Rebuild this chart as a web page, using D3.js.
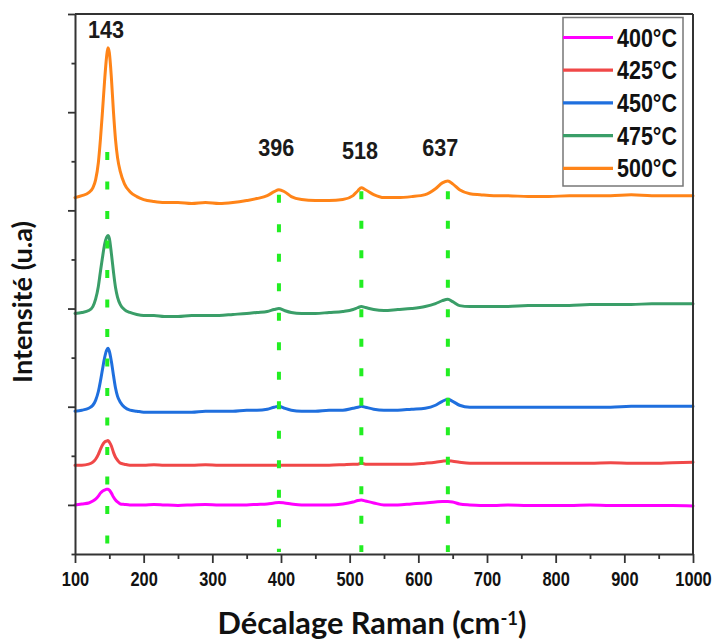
<!DOCTYPE html>
<html><head><meta charset="utf-8">
<script src="https://cdn.jsdelivr.net/npm/d3@7"></script>
<style>body{margin:0;background:#fff}</style>
</head><body>
<svg id="c" width="716" height="641"></svg>
<script>
// ---------- DATA ----------
const wavenumbers = [100,110,120,126,130,134,137,140,143,146,148,150,153,156,159,162,166,172,180,190,200,215,230,250,270,290,310,330,350,365,380,390,397,405,415,430,450,470,490,505,512,517,523,535,550,570,590,610,625,635,643,650,660,675,690,710,730,760,790,820,850,880,910,940,970,1000];

const s400 = [100,102,104,108,112,118,124,128,130,132,132,130,124,116,110,106,102,101,100,100,100,101,100,99,100,101,100,100,100,101,102,104,105,104,102,100,100,100,102,106,109,110,108,104,100,100,102,104,106,107,107,106,102,100,99,99,100,99,99,99,100,99,99,99,99,98];
const s425 = [181,181,183,187,193,203,213,222,228,230,231,228,220,207,197,191,185,183,181,181,181,182,181,181,181,182,181,181,181,181,181,181,181,181,181,181,181,181,182,183,183,185,183,183,183,183,183,185,187,189,190,189,187,185,185,185,185,185,185,185,185,186,185,185,186,187];
const s450 = [291,293,297,303,313,331,352,376,399,415,419,413,392,364,338,321,309,299,293,291,289,289,289,289,289,291,291,291,293,293,295,299,301,297,293,291,291,293,293,297,299,301,299,295,293,293,295,297,303,311,315,311,303,299,299,299,299,299,299,299,299,299,301,301,301,301];
const s475 = [490,492,496,504,519,545,575,604,630,645,649,643,612,575,543,523,508,498,492,488,486,486,484,484,486,486,486,488,490,492,494,498,500,496,492,490,490,492,494,498,502,504,502,498,496,498,500,504,510,516,519,514,506,504,504,504,504,506,506,506,508,508,508,510,510,510];
const s500 = [726,730,736,746,762,797,844,901,962,1013,1031,1021,970,901,844,807,779,754,738,728,722,718,716,716,714,716,714,716,720,724,730,738,742,738,728,722,720,720,722,730,740,746,742,732,726,726,728,732,744,756,760,754,742,734,732,730,730,728,728,730,730,730,732,730,730,730];

const seriesNames = ["400°C","425°C","450°C","475°C","500°C"];
const seriesColors = ["#ff00ff","#f04848","#1f6fde","#3a9e68","#ff8418"];

const peakLabels = ["143","396","518","637"];
const peakLabelWn = [145,393,515,632];
const peakLabelVal = [1052,810,805,810];
const peakLineWn = [147,397,517,643];
const peakLineTop = [819,732,739,739];
const peakLineBottom = 4;

const xTickMajor = [100,200,300,400,500,600,700,800,900,1000];
const xTickMinor = [150,250,350,450,550,650,750,850,950];
const yTickMajor = [100,300,500,700,900,1100];
const yTickMinor = [0,200,400,600,800,1000];

const xTitle = "Décalage Raman (cm";
const xTitleSup = "-1";
const yTitle = "Intensité (u.a)";

// ---------- CHART ----------
const svg = d3.select("#c");
svg.append("rect").attr("width",716).attr("height",641).attr("fill","#fff");

const x = d3.scaleLinear().domain([100,1000]).range([75,693]);
const y = d3.scaleLinear().domain([0,1100]).range([554,14]);

const series = [s400,s425,s450,s475,s500];
const line = d3.line().x((d,i)=>x(wavenumbers[i])).y(d=>y(d)).curve(d3.curveMonotoneX);

const gS = svg.append("g");
series.forEach((vals,i)=>{
  gS.append("path").attr("d",line(vals)).attr("fill","none")
    .attr("stroke",seriesColors[i]).attr("stroke-width",3)
    .attr("stroke-linejoin","round").attr("stroke-linecap","round");
});

// dashed reference lines
peakLineWn.forEach((wn,i)=>{
  svg.append("line").attr("x1",x(wn)).attr("x2",x(wn))
    .attr("y1",y(peakLineTop[i])).attr("y2",y(peakLineBottom))
    .attr("stroke","#22ee22").attr("stroke-width",4)
    .attr("stroke-dasharray","8,21.5");
});

const FONT_N = "'Liberation Sans', Arial, sans-serif";

// peak labels
peakLabels.forEach((t,i)=>{
  svg.append("text").text(t)
    .attr("transform",`translate(${x(peakLabelWn[i])},${y(peakLabelVal[i])}) scale(0.9,1)`)
    .attr("text-anchor","middle").attr("font-family",FONT_N)
    .attr("font-weight","bold").attr("font-size",24).attr("fill","#1a1a1a");
});

// axes
const axisColor = "#333";
const gx = svg.append("g").attr("transform",`translate(0,${y(0)})`);
gx.call(d3.axisBottom(x).tickValues(xTickMajor).tickSize(9).tickSizeOuter(0).tickPadding(8).tickFormat(d3.format("d")));
const gxm = svg.append("g").attr("transform",`translate(0,${y(0)})`);
gxm.call(d3.axisBottom(x).tickValues(xTickMinor).tickSize(5).tickFormat(""));
gxm.select(".domain").remove();

const gy = svg.append("g").attr("transform",`translate(${x(100)},0)`);
gy.call(d3.axisLeft(y).tickValues(yTickMajor).tickSize(7).tickSizeOuter(0).tickFormat(""));
const gym = svg.append("g").attr("transform",`translate(${x(100)},0)`);
gym.call(d3.axisLeft(y).tickValues(yTickMinor).tickSize(3.5).tickFormat(""));
gym.select(".domain").remove();

[gx,gxm,gy,gym].forEach(g=>{
  g.selectAll(".domain").attr("stroke",axisColor).attr("stroke-width",2);
  g.selectAll(".tick line").attr("stroke",axisColor).attr("stroke-width",1.8);
});
gx.selectAll(".tick text").attr("font-family",FONT_N).attr("font-weight","bold")
  .attr("font-size",20.5).attr("fill","#111").attr("transform","scale(0.8,1)");

// frame top & right
svg.append("line").attr("x1",x(100)).attr("x2",x(1000)).attr("y1",y(1100)).attr("y2",y(1100))
  .attr("stroke",axisColor).attr("stroke-width",2);
svg.append("line").attr("x1",x(1000)).attr("x2",x(1000)).attr("y1",y(1100)).attr("y2",y(0))
  .attr("stroke",axisColor).attr("stroke-width",2);

// legend
const lg = svg.append("g");
lg.append("rect").attr("x",563).attr("y",17.5).attr("width",120).attr("height",168.5)
  .attr("fill","#fff").attr("stroke","#777").attr("stroke-width",1.5);
seriesNames.forEach((n,i)=>{
  const cy = 37.5 + i*32.7;
  lg.append("line").attr("x1",563).attr("x2",613).attr("y1",cy).attr("y2",cy)
    .attr("stroke",seriesColors[i]).attr("stroke-width",3.2);
  lg.append("text").text(n)
    .attr("transform",`translate(617,${cy+9}) scale(0.86,1)`)
    .attr("font-family",FONT_N).attr("font-weight","bold").attr("font-size",25).attr("fill","#111");
});

// titles
const TF = "Lato, 'Open Sans', sans-serif";
function fit(sel, target){
  const w = sel.node().getBBox().width;
  const fs = parseFloat(sel.attr("font-size"));
  sel.attr("font-size", fs*target/w);
}
const xt = svg.append("text").attr("x",372).attr("y",634).attr("text-anchor","middle")
  .attr("font-family",TF).attr("font-weight","bold").attr("font-size",24).attr("fill","#111");
xt.append("tspan").text(xTitle);
xt.append("tspan").text(xTitleSup).attr("dy",-9).attr("font-size","0.6em");
xt.append("tspan").text(")").attr("dy",9);
fit(xt,309);

const yt = svg.append("text").attr("transform","translate(32,302) rotate(-90)").attr("text-anchor","middle")
  .attr("font-family",TF).attr("font-weight","bold").attr("font-size",20).attr("fill","#111")
  .text(yTitle);
fit(yt,162);
</script>
</body></html>
